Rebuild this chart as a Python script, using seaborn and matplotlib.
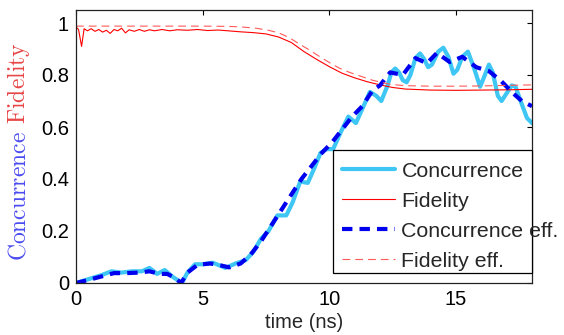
import numpy as np
import pandas as pd
import seaborn as sns
import matplotlib
matplotlib.use('Agg')
import matplotlib.pyplot as plt
from matplotlib.patches import Rectangle

# concurrence (oscillating)
t_conc = [0, 0.5, 1.0, 1.4, 1.8, 2.2, 2.6, 2.9, 3.2, 3.5, 3.8, 4.18, 4.4, 4.7, 5.0, 5.4, 5.9,
          6.3, 6.7, 7.0, 7.3, 7.6, 7.95, 8.3, 8.55, 8.85, 9.15, 9.4, 9.65, 9.9, 10.15, 10.45,
          10.75, 11.05, 11.35, 11.6, 11.85, 12.05, 12.3, 12.45, 12.6, 12.75, 12.9, 13.05, 13.2,
          13.4, 13.58, 13.75, 13.9, 14.05, 14.3, 14.5, 14.7, 14.9, 15.05, 15.25, 15.47, 15.7,
          15.95, 16.1, 16.3, 16.45, 16.65, 16.8, 17.0, 17.2, 17.35, 17.55, 17.8, 18.0]
conc = [0, 0.015, 0.03, 0.045, 0.04, 0.045, 0.045, 0.058, 0.035, 0.05, 0.025, 0.0, 0.04, 0.072,
        0.072, 0.078, 0.058, 0.075, 0.088, 0.12, 0.17, 0.2, 0.26, 0.26, 0.31, 0.39, 0.385, 0.44,
        0.50, 0.515, 0.515, 0.58, 0.64, 0.615, 0.68, 0.735, 0.72, 0.70, 0.76, 0.81, 0.825, 0.81,
        0.78, 0.772, 0.80, 0.865, 0.883, 0.86, 0.83, 0.84, 0.89, 0.905, 0.87, 0.805, 0.82, 0.87,
        0.89, 0.83, 0.755, 0.79, 0.84, 0.81, 0.72, 0.70, 0.73, 0.76, 0.755, 0.70, 0.635, 0.615]

# concurrence eff.
t_conc_eff = [0, 0.5, 1.0, 1.5, 2.0, 2.5, 2.9, 3.3, 3.6, 3.9, 4.15, 4.4, 4.8, 5.3, 5.7, 6.05,
              6.5, 6.9, 7.3, 7.7, 8.1, 8.5, 8.9, 9.3, 9.7, 10.1, 10.5, 10.9, 11.3, 11.7, 12.0,
              12.4, 12.9, 13.4, 13.85, 14.25, 14.75, 15.25, 15.8, 16.3, 16.8, 17.25, 17.6, 18.0]
conc_eff = [0, 0.012, 0.025, 0.038, 0.038, 0.04, 0.045, 0.035, 0.035, 0.02, 0.0, 0.04, 0.07,
            0.075, 0.068, 0.06, 0.075, 0.11, 0.16, 0.22, 0.28, 0.34, 0.40, 0.45, 0.50, 0.54,
            0.59, 0.64, 0.68, 0.74, 0.76, 0.81, 0.80, 0.865, 0.845, 0.885, 0.85, 0.87, 0.83,
            0.815, 0.775, 0.73, 0.70, 0.68]

# fidelity
t_fid = [0, 0.1, 0.22, 0.32, 0.45, 0.6, 0.75, 0.9, 1.05, 1.2, 1.35, 1.5, 1.65, 1.8, 1.95, 2.1,
         2.3, 2.5, 2.7, 2.9, 3.1, 3.4, 3.7, 4.0, 4.4, 4.8, 5.2, 5.6, 6.0, 6.5, 7.0, 7.5, 8.0,
         8.5, 9.0, 9.5, 10.0, 10.5, 11.0, 11.5, 12.0, 12.5, 13.0, 14.0, 15.0, 16.0, 17.0, 18.0]
fid = [0.985, 0.975, 0.91, 0.978, 0.97, 0.978, 0.968, 0.975, 0.965, 0.972, 0.96, 0.975, 0.97,
       0.98, 0.962, 0.974, 0.968, 0.975, 0.968, 0.974, 0.97, 0.975, 0.97, 0.974, 0.972, 0.975,
       0.971, 0.973, 0.97, 0.966, 0.963, 0.958, 0.946, 0.925, 0.89, 0.86, 0.832, 0.807, 0.789,
       0.774, 0.762, 0.752, 0.746, 0.742, 0.741, 0.742, 0.743, 0.745]

# fidelity eff.
t_fid_eff = [0, 1.0, 2.0, 3.0, 4.0, 5.0, 6.0, 6.5, 7.1, 7.6, 8.0, 8.4, 8.8, 9.2, 9.6, 10.0,
             10.4, 10.8, 11.1, 11.7, 12.4, 13.0, 14.0, 15.0, 16.0, 17.0, 18.0]
fid_eff = [0.988, 0.988, 0.988, 0.988, 0.988, 0.988, 0.987, 0.985, 0.98, 0.972, 0.962, 0.945,
           0.92, 0.897, 0.872, 0.848, 0.826, 0.81, 0.80, 0.78, 0.764, 0.759, 0.757, 0.757,
           0.758, 0.76, 0.762]

sns.set_style('white')
plt.rcParams['font.family'] = ['Liberation Sans', 'DejaVu Sans']
plt.rcParams['mathtext.fontset'] = 'cm'

fig = plt.figure(figsize=(5.64, 3.35), dpi=100)
ax = fig.add_axes([76 / 564, 52 / 335, 456 / 564, 273 / 335])

sns.lineplot(x=t_conc, y=conc, ax=ax, color='#3ec6f4', lw=3, label='Concurrence',
             solid_joinstyle='round')
sns.lineplot(x=t_fid, y=fid, ax=ax, color='#ff0000', lw=0.8, label='Fidelity')
sns.lineplot(x=t_conc_eff, y=conc_eff, ax=ax, color='#0000ee', lw=3,
             linestyle=(0, (2.5, 1.7)), label='Concurrence eff.')
sns.lineplot(x=t_fid_eff, y=fid_eff, ax=ax, color='#ff5a5a', lw=0.8,
             linestyle=(0, (7, 4.5)), label='Fidelity eff.')

ax.set_xlim(0, 18)
ax.set_ylim(0, 1.05)
ax.set_xticks([0, 5, 10, 15])
ax.set_yticks([0, 0.2, 0.4, 0.6, 0.8, 1.0])
ax.set_yticklabels(['0', '0.2', '0.4', '0.6', '0.8', '1'])
ax.tick_params(direction='in', length=3.5, width=0.8, top=True, right=True,
               labelsize=14.5, colors='black', pad=5)
for s in ax.spines.values():
    s.set_linewidth(0.9)
    s.set_color('#222222')
ax.set_xlabel('time (ns)', fontsize=14.5, labelpad=3)

# two-coloured y label
fig.text(25 / 564, (335 - 261) / 335, r'$\mathrm{Concurrence}$', color='#4b4bf0',
         fontsize=17, rotation=90, rotation_mode='anchor', ha='left', va='baseline')
fig.text(25 / 564, (335 - 124) / 335, r'$\mathrm{Fidelity}$', color='#e84545',
         fontsize=17, rotation=90, rotation_mode='anchor', ha='left', va='baseline')

# legend box (text runs past its right edge, as in the original export)
box = Rectangle((333 / 564, (335 - 273) / 335), 199 / 564, 123 / 335,
                transform=fig.transFigure, facecolor='white', edgecolor='black',
                linewidth=0.9, zorder=3, clip_on=False)
ax.add_patch(box)
leg = ax.legend(loc='upper left', bbox_to_anchor=(333 / 564, 182 / 335),
                bbox_transform=fig.transFigure, borderaxespad=0,
                fontsize=15.4, frameon=False, handlelength=2.5, handletextpad=0.3,
                labelspacing=0.52, borderpad=0.4)
leg.set_zorder(5)

fig.savefig('out.png', dpi=100)
